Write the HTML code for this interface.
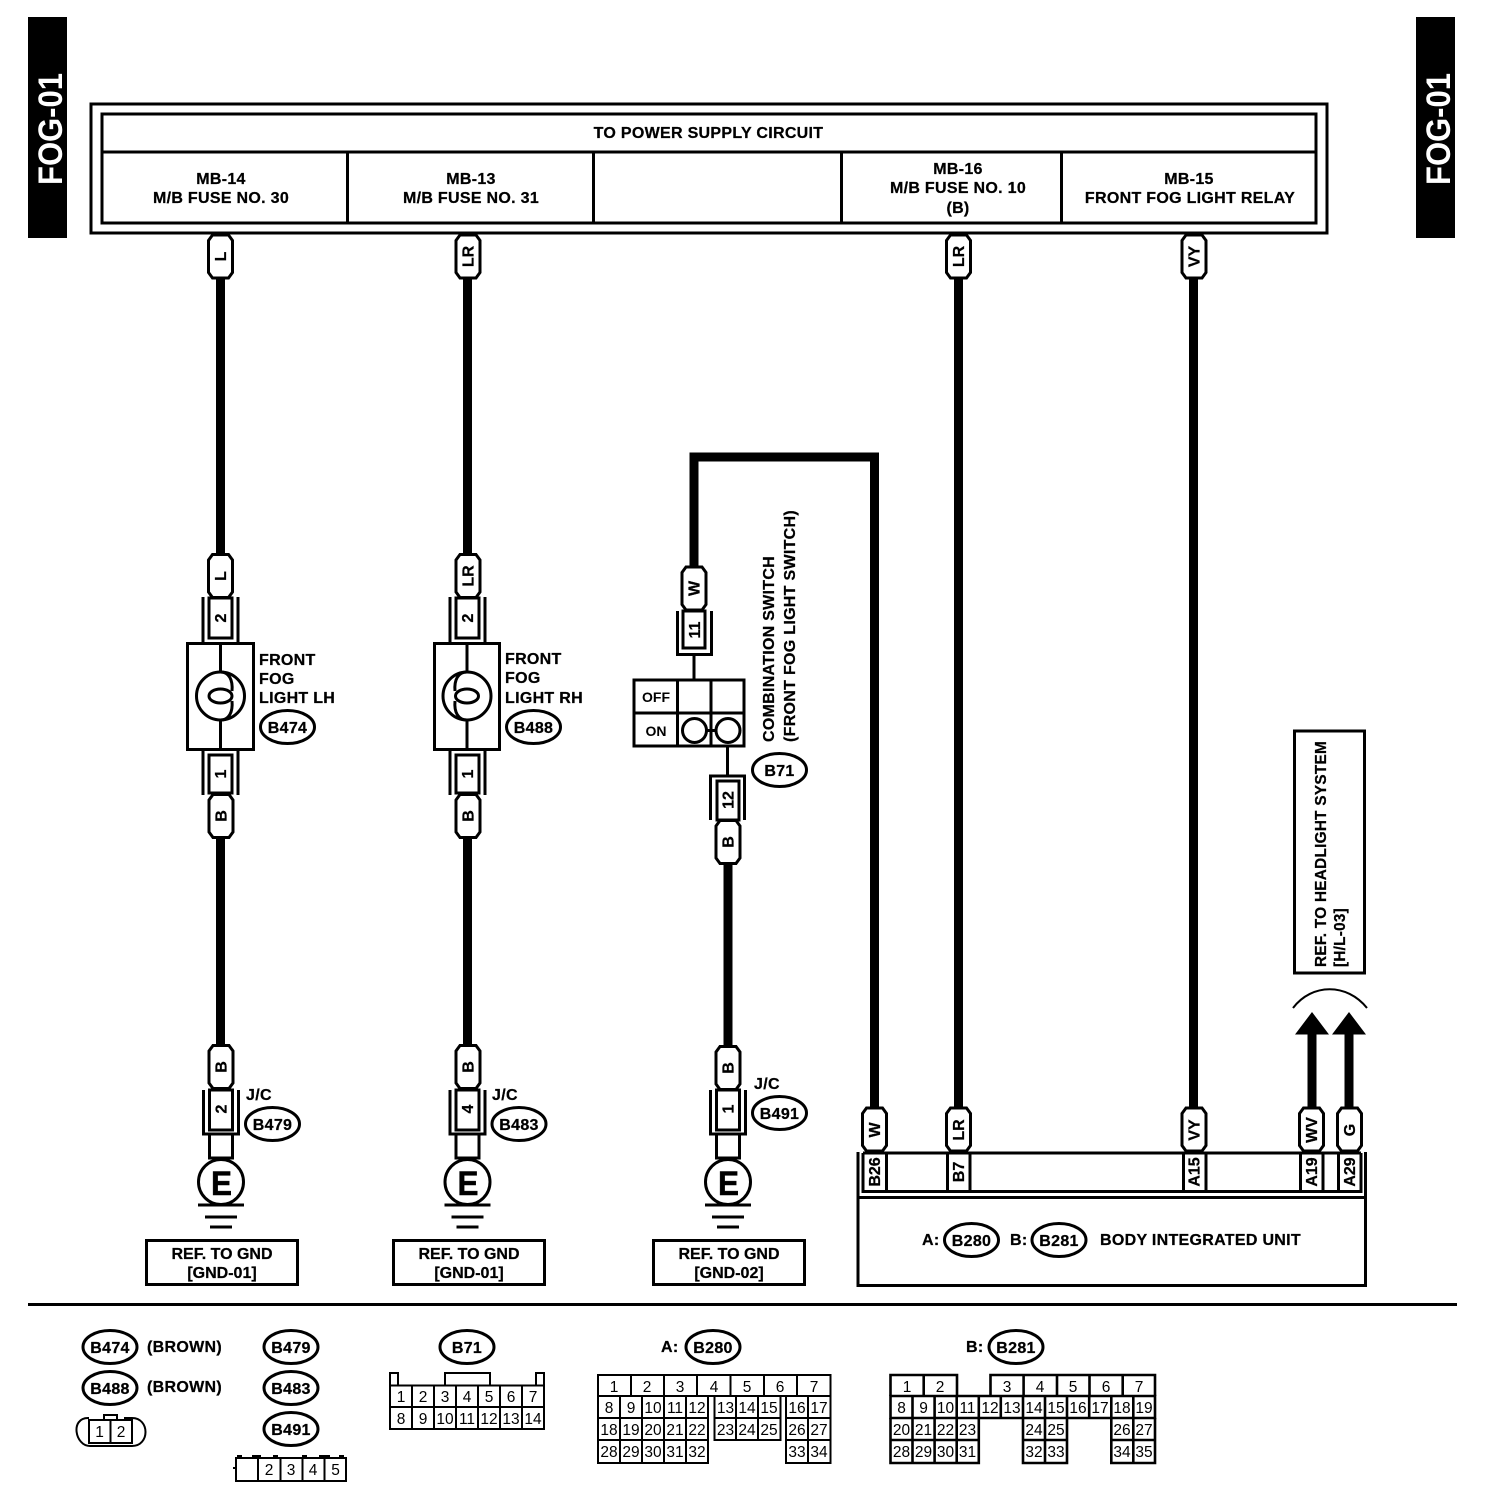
<!DOCTYPE html>
<html>
<head>
<meta charset="utf-8">
<style>
html,body{margin:0;padding:0;background:#fff}
svg{display:block}
text{font-family:"Liberation Sans",sans-serif;fill:#000}
.b{font-weight:bold;font-size:16px;letter-spacing:.3px;stroke:#000;stroke-width:.25}
.r{letter-spacing:0}
.m{text-anchor:middle}
.t{font-weight:bold;font-size:16px;text-anchor:middle;stroke:#000;stroke-width:.25}
.n{font-size:15.5px;text-anchor:middle}
.l{fill:none;stroke:#000;stroke-width:3}
.w{fill:none;stroke:#000;stroke-width:9}
.thin{fill:none;stroke:#000;stroke-width:2}
.th{fill:none;stroke:#000;stroke-width:2.6}
.o{fill:#fff;stroke:#000;stroke-width:3}
.e{font-size:34px;font-weight:bold;stroke:#000;stroke-width:.5}
.f{font-size:34px;font-weight:bold;fill:#fff}
</style>
</head>
<body>
<svg width="1504" height="1512" viewBox="0 0 1504 1512" xmlns="http://www.w3.org/2000/svg">
<defs>
<path id="tag" d="M-8,-21.5H8L12,-16V16L8,21.5H-8L-12,16V-16Z" fill="#fff" stroke="#000" stroke-width="3"/>
<g id="su"><path class="l" d="M-17.5,597V643M17.5,597V643"/><rect class="o" x="-11.5" y="598" width="23" height="40"/></g>
<g id="sl"><path class="l" d="M-17.5,750V795M17.5,750V795"/><rect class="o" x="-11.5" y="755" width="23" height="38"/></g>
<g id="gnd">
<path class="l" d="M-17.5,1090V1134H17.5V1090"/>
<rect class="o" x="-11.5" y="1090" width="23" height="40"/>
<rect class="o" x="-11.5" y="1134" width="23" height="24"/>
<circle class="o" cx="0" cy="1182" r="22.5"/>
<path class="l" d="M-23,1205H23M-16,1217H16M-11,1227H11"/>
</g>
<ellipse id="ov" rx="27" ry="16.5" fill="#fff" stroke="#000" stroke-width="3"/>
</defs>

<!-- side bars -->
<rect x="28" y="17" width="39" height="221"/>
<rect x="1416" y="17" width="39" height="221"/>
<text class="f" transform="translate(62,185) rotate(-90)" textLength="112" lengthAdjust="spacingAndGlyphs">FOG-01</text>
<text class="f" transform="translate(1450,185) rotate(-90)" textLength="112" lengthAdjust="spacingAndGlyphs">FOG-01</text>

<!-- top frame -->
<rect class="l" x="91" y="104" width="1236" height="129"/>
<rect class="l" x="102" y="114" width="1214" height="109"/>
<path class="l" d="M102,152H1316M347.5,152V223M593.5,152V223M841.5,152V223M1061.5,152V223"/>
<text class="b m" x="708.5" y="138">TO POWER SUPPLY CIRCUIT</text>
<text class="b m" x="221" y="184">MB-14</text>
<text class="b m" x="221" y="203">M/B FUSE NO. 30</text>
<text class="b m" x="471" y="184">MB-13</text>
<text class="b m" x="471" y="203">M/B FUSE NO. 31</text>
<text class="b m" x="958" y="174">MB-16</text>
<text class="b m" x="958" y="193">M/B FUSE NO. 10</text>
<text class="b m" x="958" y="213">(B)</text>
<text class="b m" x="1189" y="184">MB-15</text>
<text class="b m" x="1190" y="203">FRONT FOG LIGHT RELAY</text>

<!-- wires -->
<path class="w" d="M220.5,270V560M220.5,830V1050"/>
<path class="w" d="M467.5,270V560M467.5,830V1050"/>
<path class="w" d="M958.5,270V1112"/>
<path class="w" d="M1193.5,270V1112"/>
<path class="w" d="M694,570V457H874.5V1112"/>
<path class="w" d="M728,855V1050"/>
<path class="w" d="M1312,1030V1112M1349,1030V1112"/>
<path d="M1312,1012L1329,1034.5H1295ZM1349,1012L1366,1034.5H1332Z"/>
<path d="M1293,1008C1312,983 1347,983 1367,1008" fill="none" stroke="#000" stroke-width="2"/>

<!-- top tags -->
<use href="#tag" x="220.5" y="256.5"/>
<use href="#tag" x="468" y="256.5"/>
<use href="#tag" x="958.5" y="256.5"/>
<use href="#tag" x="1194" y="256.5"/>
<text class="t" transform="translate(226,256.5) rotate(-90)">L</text>
<text class="t" transform="translate(473.5,256.5) rotate(-90)">LR</text>
<text class="t" transform="translate(964,256.5) rotate(-90)">LR</text>
<text class="t" transform="translate(1199.5,256.5) rotate(-90)">VY</text>

<!-- Fog light LH -->
<use href="#su" x="220.5"/>
<use href="#tag" x="220.5" y="576"/>
<text class="t" transform="translate(226,576) rotate(-90)">L</text>
<text class="t" transform="translate(226,618) rotate(-90)">2</text>
<rect class="o" x="187.5" y="643.5" width="66" height="106"/>
<circle class="l" cx="220.5" cy="696" r="24"/>
<ellipse class="l" cx="220.5" cy="696" rx="11.5" ry="7"/>
<path class="l" d="M220.5,643.5V672C229,672 233,680 232,691M232,701C233,712 229,720 220.5,720V749.5"/>
<use href="#sl" x="220.5"/>
<use href="#tag" x="221" y="816"/>
<text class="t" transform="translate(226.5,816) rotate(-90)">B</text>
<text class="t" transform="translate(226,774) rotate(-90)">1</text>
<text class="b" x="259" y="665">FRONT</text>
<text class="b" x="259" y="684">FOG</text>
<text class="b" x="259" y="703">LIGHT LH</text>
<use href="#ov" x="287.5" y="727"/>
<text class="b m" x="287.5" y="733">B474</text>

<!-- Fog light RH -->
<use href="#su" x="467.5"/>
<use href="#tag" x="468" y="576"/>
<text class="t" transform="translate(473.5,576) rotate(-90)">LR</text>
<text class="t" transform="translate(473,618) rotate(-90)">2</text>
<rect class="o" x="434.5" y="643.5" width="65" height="106"/>
<circle class="l" cx="467" cy="696" r="24"/>
<ellipse class="l" cx="467" cy="696" rx="11.5" ry="7"/>
<path class="l" d="M467,643.5V672C458,672 454,680 455,691M455,701C454,712 458,720 467,720V749.5"/>
<use href="#sl" x="467.5"/>
<use href="#tag" x="468" y="816"/>
<text class="t" transform="translate(473.5,816) rotate(-90)">B</text>
<text class="t" transform="translate(473,774) rotate(-90)">1</text>
<text class="b" x="505" y="664">FRONT</text>
<text class="b" x="505" y="683">FOG</text>
<text class="b" x="505" y="703">LIGHT RH</text>
<use href="#ov" x="533.5" y="727"/>
<text class="b m" x="533.5" y="733">B488</text>

<!-- Combination switch -->
<use href="#tag" x="694" y="588.5"/>
<text class="t" transform="translate(699.5,588.5) rotate(-90)">W</text>
<path class="l" d="M677.5,611V654.5H711.5V611"/>
<rect class="o" x="683" y="611" width="22" height="37"/>
<text class="t" transform="translate(700,630) rotate(-90)">11</text>
<path class="l" d="M694,654.5V680"/>
<rect class="o" x="634" y="680" width="110" height="66"/>
<path class="l" d="M634,713H744M677.5,680V746M711,680V746"/>
<text x="656" y="702" font-size="14" font-weight="bold" text-anchor="middle">OFF</text>
<text x="656" y="736" font-size="14" font-weight="bold" text-anchor="middle">ON</text>
<circle class="l" cx="694.5" cy="730.5" r="12"/>
<circle class="l" cx="728" cy="730.5" r="12"/>
<path class="l" d="M706,730.5H716M727.5,746V776"/>
<path class="l" d="M710.5,820V776H744.5V820"/>
<rect class="o" x="717" y="781" width="22" height="39"/>
<text class="t" transform="translate(733.5,800) rotate(-90)">12</text>
<use href="#tag" x="728" y="842"/>
<text class="t" transform="translate(733.5,842) rotate(-90)">B</text>
<use href="#ov" x="779.5" y="770"/>
<text class="b m" x="779.5" y="776">B71</text>
<text class="b" transform="translate(774,742) rotate(-90)" textLength="186" lengthAdjust="spacingAndGlyphs">COMBINATION SWITCH</text>
<text class="b" transform="translate(795,742) rotate(-90)" textLength="232" lengthAdjust="spacingAndGlyphs">(FRONT FOG LIGHT SWITCH)</text>

<!-- Grounds -->
<use href="#gnd" x="221"/>
<use href="#tag" x="221" y="1067"/>
<text class="t" transform="translate(226.5,1067) rotate(-90)">B</text>
<text class="t" transform="translate(226.5,1109) rotate(-90)">2</text>
<text class="e" x="211" y="1195" textLength="21" lengthAdjust="spacingAndGlyphs">E</text>
<text class="b" x="246" y="1100">J/C</text>
<use href="#ov" x="272.5" y="1124"/>
<text class="b m" x="272.5" y="1130">B479</text>
<rect class="l" x="146.5" y="1240.5" width="151" height="44"/>
<text class="b m r" x="222" y="1259">REF. TO GND</text>
<text class="b m r" x="222" y="1278">[GND-01]</text>

<use href="#gnd" x="467.5"/>
<use href="#tag" x="468" y="1067"/>
<text class="t" transform="translate(473.5,1067) rotate(-90)">B</text>
<text class="t" transform="translate(473,1109) rotate(-90)">4</text>
<text class="e" x="457.5" y="1195" textLength="21" lengthAdjust="spacingAndGlyphs">E</text>
<text class="b" x="492" y="1100">J/C</text>
<use href="#ov" x="519" y="1124"/>
<text class="b m" x="519" y="1130">B483</text>
<rect class="l" x="393.5" y="1240.5" width="151" height="44"/>
<text class="b m r" x="469" y="1259">REF. TO GND</text>
<text class="b m r" x="469" y="1278">[GND-01]</text>

<use href="#gnd" x="728"/>
<use href="#tag" x="728" y="1068"/>
<text class="t" transform="translate(733.5,1068) rotate(-90)">B</text>
<text class="t" transform="translate(733.5,1109) rotate(-90)">1</text>
<text class="e" x="718" y="1195" textLength="21" lengthAdjust="spacingAndGlyphs">E</text>
<text class="b" x="754" y="1089">J/C</text>
<use href="#ov" x="779.5" y="1113"/>
<text class="b m" x="779.5" y="1119">B491</text>
<rect class="l" x="653.5" y="1240.5" width="151" height="44"/>
<text class="b m r" x="729" y="1259">REF. TO GND</text>
<text class="b m r" x="729" y="1278">[GND-02]</text>

<!-- Body integrated unit -->
<rect class="l" x="858" y="1197.5" width="507.5" height="88"/>
<path class="l" d="M858,1152V1197M1365.5,1152V1197"/>
<path class="l" d="M863,1153H1361M863,1153V1191.5H1361V1153"/>
<path class="l" d="M886.5,1153V1191.5M947.5,1153V1191.5M970,1153V1191.5M1183.5,1153V1191.5M1206,1153V1191.5M1300.5,1153V1191.5M1323,1153V1191.5M1338.5,1153V1191.5"/>
<use href="#tag" x="874.5" y="1129.5"/>
<use href="#tag" x="958.5" y="1129.5"/>
<use href="#tag" x="1194" y="1129.5"/>
<use href="#tag" x="1311.5" y="1129.5"/>
<use href="#tag" x="1349.5" y="1129.5"/>
<text class="t" transform="translate(880,1130) rotate(-90)">W</text>
<text class="t" transform="translate(964,1130) rotate(-90)">LR</text>
<text class="t" transform="translate(1199.5,1130) rotate(-90)">VY</text>
<text class="t" transform="translate(1317,1130) rotate(-90)">WV</text>
<text class="t" transform="translate(1355,1130) rotate(-90)">G</text>
<text class="t" transform="translate(880,1172) rotate(-90)">B26</text>
<text class="t" transform="translate(964,1172) rotate(-90)">B7</text>
<text class="t" transform="translate(1199.5,1172) rotate(-90)">A15</text>
<text class="t" transform="translate(1317,1172) rotate(-90)">A19</text>
<text class="t" transform="translate(1355,1172) rotate(-90)">A29</text>
<text class="b" x="922" y="1245">A:</text>
<use href="#ov" x="971.5" y="1240"/>
<text class="b m" x="971.5" y="1246">B280</text>
<text class="b" x="1010" y="1245">B:</text>
<use href="#ov" x="1059" y="1240"/>
<text class="b m" x="1059" y="1246">B281</text>
<text class="b" x="1100" y="1245">BODY INTEGRATED UNIT</text>

<!-- Headlight ref -->
<rect class="l" x="1294.5" y="731" width="70" height="242"/>
<text class="b" transform="translate(1326,967) rotate(-90)" textLength="226" lengthAdjust="spacingAndGlyphs">REF. TO HEADLIGHT SYSTEM</text>
<text class="b" transform="translate(1345,967) rotate(-90)" textLength="59" lengthAdjust="spacingAndGlyphs">[H/L-03]</text>

<!-- divider -->
<path class="l" d="M28,1304.5H1457"/>

<!-- Legend -->
<use href="#ov" x="110" y="1347"/>
<text class="b m" x="110" y="1353">B474</text>
<text class="b" x="147" y="1352">(BROWN)</text>
<use href="#ov" x="110" y="1388"/>
<text class="b m" x="110" y="1394">B488</text>
<text class="b" x="147" y="1392">(BROWN)</text>
<use href="#ov" x="291" y="1347"/>
<text class="b m" x="291" y="1353">B479</text>
<use href="#ov" x="291" y="1388"/>
<text class="b m" x="291" y="1394">B483</text>
<use href="#ov" x="291" y="1429"/>
<text class="b m" x="291" y="1435">B491</text>
<use href="#ov" x="467" y="1347"/>
<text class="b m" x="467" y="1353">B71</text>

<!-- B474 connector -->
<path class="thin" d="M89,1418H88C70,1418 75,1446 90,1446H132C150,1446 150,1418 132,1418H124"/>
<rect x="89" y="1420" width="43" height="23" class="o" style="stroke-width:2"/>
<path class="thin" d="M110.5,1420V1443M104,1420V1415H117V1420"/>
<text class="n" x="99.5" y="1437">1</text>
<text class="n" x="121" y="1437">2</text>

<!-- B491 connector -->
<rect class="o" style="stroke-width:2" x="236" y="1458" width="110" height="23"/>
<path class="thin" d="M258,1458V1481M280.5,1458V1481M302.5,1458V1481M324.5,1458V1481M233,1468H236M238,1458V1456H241V1458M253,1458V1456H260V1458M274,1458V1456H277V1458M303,1458V1456H306V1458M320,1458V1456H329V1458M340,1458V1456H343V1458"/>
<text class="n" x="269" y="1475">2</text>
<text class="n" x="291" y="1475">3</text>
<text class="n" x="313" y="1475">4</text>
<text class="n" x="335.5" y="1475">5</text>

<!-- B71 connector -->
<path class="thin" d="M390,1385.5V1429H544V1385.5ZM390,1407H544M412,1385.5V1429M434,1385.5V1429M456,1385.5V1429M478,1385.5V1429M500,1385.5V1429M522,1385.5V1429M390,1385V1373H398V1385M445,1385V1373H490V1385M536,1385V1373H544V1385"/>
<text class="n" x="401" y="1402">1</text><text class="n" x="423" y="1402">2</text><text class="n" x="445" y="1402">3</text><text class="n" x="467" y="1402">4</text><text class="n" x="489" y="1402">5</text><text class="n" x="511" y="1402">6</text><text class="n" x="533" y="1402">7</text>
<text class="n" x="401" y="1424">8</text><text class="n" x="423" y="1424">9</text><text class="n" x="445" y="1424">10</text><text class="n" x="467" y="1424">11</text><text class="n" x="489" y="1424">12</text><text class="n" x="511" y="1424">13</text><text class="n" x="533" y="1424">14</text>

<!-- A: B280 -->
<text class="b" x="661" y="1352">A:</text>
<use href="#ov" x="713" y="1347"/>
<text class="b m" x="713" y="1353">B280</text>
<path class="thin" d="M598,1375H830.5V1396H598ZM631,1375V1396M664,1375V1396M697,1375V1396M730.5,1375V1396M764,1375V1396M797,1375V1396"/>
<path class="thin" d="M598,1396V1463H708V1396M598,1418H708M598,1440H708M620,1396V1463M642,1396V1463M664,1396V1463M686,1396V1463"/>
<path class="thin" d="M708,1396V1440M714.5,1396V1440H780.5V1396M714.5,1418H780.5M736,1396V1440M758,1396V1440"/>
<path class="thin" d="M786,1396V1463H830.5V1396M786,1418H830.5M786,1440H830.5M808,1396V1463"/>
<g>
<text class="n" x="614" y="1392">1</text><text class="n" x="647" y="1392">2</text><text class="n" x="680" y="1392">3</text><text class="n" x="714" y="1392">4</text><text class="n" x="747" y="1392">5</text><text class="n" x="780" y="1392">6</text><text class="n" x="814" y="1392">7</text>
<text class="n" x="609" y="1413">8</text><text class="n" x="631" y="1413">9</text><text class="n" x="653" y="1413">10</text><text class="n" x="675" y="1413">11</text><text class="n" x="697" y="1413">12</text><text class="n" x="725.5" y="1413">13</text><text class="n" x="747" y="1413">14</text><text class="n" x="769" y="1413">15</text><text class="n" x="797" y="1413">16</text><text class="n" x="819" y="1413">17</text>
<text class="n" x="609" y="1435">18</text><text class="n" x="631" y="1435">19</text><text class="n" x="653" y="1435">20</text><text class="n" x="675" y="1435">21</text><text class="n" x="697" y="1435">22</text><text class="n" x="725.5" y="1435">23</text><text class="n" x="747" y="1435">24</text><text class="n" x="769" y="1435">25</text><text class="n" x="797" y="1435">26</text><text class="n" x="819" y="1435">27</text>
<text class="n" x="609" y="1457">28</text><text class="n" x="631" y="1457">29</text><text class="n" x="653" y="1457">30</text><text class="n" x="675" y="1457">31</text><text class="n" x="697" y="1457">32</text><text class="n" x="797" y="1457">33</text><text class="n" x="819" y="1457">34</text>
</g>

<!-- B: B281 -->
<text class="b" x="966" y="1352">B:</text>
<use href="#ov" x="1016" y="1347"/>
<text class="b m" x="1016" y="1353">B281</text>
<path class="th" d="M890.5,1396V1375H957V1396M923.7,1375V1396M990.5,1396V1375H1155V1396M1023.6,1375V1396M1057,1375V1396M1089.5,1375V1396M1122.7,1375V1396"/>
<path class="th" d="M890.5,1396H1155V1418H890.5ZM912.5,1396V1463M934.6,1396V1463M956.7,1396V1463M978.8,1396V1418M1000.8,1396V1418M1023,1396V1418M1045,1396V1463M1067,1396V1418M1089.2,1396V1418M1111.3,1396V1418M1133.3,1396V1463"/>
<path class="th" d="M890.5,1418V1463H978.8V1418M890.5,1440H978.8M1023,1418V1463H1067V1418M1023,1440H1067M1111.3,1418V1463H1155V1418M1111.3,1440H1155"/>
<g>
<text class="n" x="907" y="1392">1</text><text class="n" x="940" y="1392">2</text><text class="n" x="1007" y="1392">3</text><text class="n" x="1040" y="1392">4</text><text class="n" x="1073" y="1392">5</text><text class="n" x="1106" y="1392">6</text><text class="n" x="1139" y="1392">7</text>
<text class="n" x="901.5" y="1413">8</text><text class="n" x="923.5" y="1413">9</text><text class="n" x="945.5" y="1413">10</text><text class="n" x="967.5" y="1413">11</text><text class="n" x="990" y="1413">12</text><text class="n" x="1012" y="1413">13</text><text class="n" x="1034" y="1413">14</text><text class="n" x="1056" y="1413">15</text><text class="n" x="1078" y="1413">16</text><text class="n" x="1100" y="1413">17</text><text class="n" x="1122" y="1413">18</text><text class="n" x="1144" y="1413">19</text>
<text class="n" x="901.5" y="1435">20</text><text class="n" x="923.5" y="1435">21</text><text class="n" x="945.5" y="1435">22</text><text class="n" x="967.5" y="1435">23</text><text class="n" x="1034" y="1435">24</text><text class="n" x="1056" y="1435">25</text><text class="n" x="1122" y="1435">26</text><text class="n" x="1144" y="1435">27</text>
<text class="n" x="901.5" y="1457">28</text><text class="n" x="923.5" y="1457">29</text><text class="n" x="945.5" y="1457">30</text><text class="n" x="967.5" y="1457">31</text><text class="n" x="1034" y="1457">32</text><text class="n" x="1056" y="1457">33</text><text class="n" x="1122" y="1457">34</text><text class="n" x="1144" y="1457">35</text>
</g>
</svg>
</body>
</html>
